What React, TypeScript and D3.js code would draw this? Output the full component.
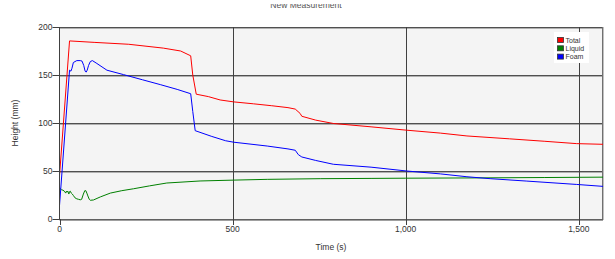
import React from "react";
import * as d3 from "d3";

const title = "New Measurement";
const xLabel = "Time (s)";
const yLabel = "Height (mm)";
const xTicks = [0, 500, 1000, 1500];
const yTicks = [0, 50, 100, 150, 200];
const seriesNames = ["Total", "Liquid", "Foam"];
const seriesColors = ["#ff0000", "#008000", "#0000ff"];

const totalT = [0, 29, 100, 200, 300, 350, 379, 385, 395, 430, 464, 503, 560, 613, 660, 681, 695, 700, 740, 791, 900, 1003, 1100, 1177, 1300, 1400, 1494, 1570];
const totalV = [45, 185.5, 184, 182, 178, 175, 170, 150, 130, 127.5, 124, 122, 120, 118, 116, 114.5, 110, 107, 103, 99.5, 96, 92.5, 89.5, 86.5, 83.5, 81, 78.5, 77.8];

const liquidT = [0, 3, 6, 10, 14, 18, 20, 22, 24, 27, 29, 31, 34, 37, 40, 45, 50, 55, 60, 64, 69, 73, 76, 79, 82, 86, 89, 98, 118, 147, 180, 214, 260, 310, 406, 503, 600, 753, 900, 1000, 1200, 1400, 1570];
const liquidV = [33, 31, 30.5, 30, 29, 27, 29, 28, 29, 26, 28.5, 29, 27, 26, 24.5, 22, 21, 20.5, 20, 20.5, 26, 29.5, 29.5, 27, 24, 20.5, 19.5, 19.8, 23, 27, 29.5, 31.5, 34.5, 37.5, 39.6, 40.5, 41.3, 42, 42.3, 42.5, 42.8, 43.2, 43.6];

const foamT = [0, 29, 33, 36, 40, 50, 60, 65, 70, 74, 77, 80, 84, 89, 95, 108, 137, 185, 240, 291, 340, 379, 385, 392, 400, 440, 480, 503, 600, 660, 681, 690, 700, 740, 791, 900, 1003, 1100, 1177, 1244, 1350, 1494, 1570];
const foamV = [14, 155, 154, 157, 163, 165, 165, 164.5, 160, 154, 153, 155, 160, 164, 165, 162, 155, 150.4, 145, 140, 135, 130.5, 112, 92, 91, 86, 81.5, 80, 76, 73, 71.6, 67, 64.6, 61, 57, 54, 50, 47, 44, 42, 39.5, 36, 34];

const W = 615;
const H = 259;
const L = 59.5;
const R = 603;
const T = 27;
const B = 219;

export default function App() {
  const x = d3.scaleLinear().domain([0, 1570]).range([L, R]);
  const y = d3.scaleLinear().domain([0, 200]).range([B, T]);
  const line = d3
    .line<[number, number]>()
    .x((d) => x(d[0]))
    .y((d) => y(d[1]));
  const series = [
    totalT.map((t, i) => [t, totalV[i]] as [number, number]),
    liquidT.map((t, i) => [t, liquidV[i]] as [number, number]),
    foamT.map((t, i) => [t, foamV[i]] as [number, number]),
  ];
  const fmt = d3.format(",");
  const font = "'Liberation Sans', Arial, sans-serif";
  return (
    <svg
      width={W}
      height={H}
      style={{ position: "absolute", left: 0, top: 0, display: "block" }}
      fontFamily={font}
    >
      <defs>
        <clipPath id="titleClip">
          <rect x={0} y={4} width={W} height={10} />
        </clipPath>
      </defs>
      <rect x={0} y={0} width={W} height={H} fill="#ffffff" />
      <text x={306} y={7.8} fontSize={8.5} textAnchor="middle" fill="#555" clipPath="url(#titleClip)">
        {title}
      </text>
      <rect x={L} y={T} width={R - L} height={B - T} fill="#f4f4f4" />
      {yTicks
        .filter((v) => v > 0)
        .map((v) => (
          <g key={"hg" + v}>
            <line x1={L} x2={R} y1={Math.round(y(v)) + 0.5} y2={Math.round(y(v)) + 0.5} stroke="#505050" />
            <line x1={L} x2={R} y1={Math.round(y(v)) + 1.5} y2={Math.round(y(v)) + 1.5} stroke="#b0b0b0" />
          </g>
        ))}
      {xTicks
        .filter((v) => v > 0)
        .map((v) => (
          <line key={"vg" + v} x1={Math.round(x(v)) + 0.5} x2={Math.round(x(v)) + 0.5} y1={T} y2={B} stroke="#404040" />
        ))}
      <line x1={R - 0.5} x2={R - 0.5} y1={T} y2={B} stroke="#707070" />
      <line x1={R + 0.5} x2={R + 0.5} y1={T} y2={B + 1} stroke="#c0c0c0" />
      {series.map((s, i) => (
        <path key={i} d={line(s) || ""} fill="none" stroke={seriesColors[i]} strokeWidth={1} />
      ))}
      <line x1={L} x2={L} y1={T} y2={B + 1} stroke="#404040" />
      <line x1={L} x2={R} y1={B + 0.5} y2={B + 0.5} stroke="#606060" />
      <line x1={L} x2={R} y1={B + 1.5} y2={B + 1.5} stroke="#a0a0a0" />
      {yTicks.map((v) => (
        <g key={"yt" + v}>
          <line x1={L - 7} x2={L} y1={Math.round(y(v)) + 0.5} y2={Math.round(y(v)) + 0.5} stroke="#404040" />
          <text x={L - 7} y={y(v) + 3} fontSize={8.5} textAnchor="end" fill="#333">
            {fmt(v)}
          </text>
        </g>
      ))}
      {xTicks.map((v) => (
        <g key={"xt" + v}>
          <line x1={Math.round(x(v)) + 0.5} x2={Math.round(x(v)) + 0.5} y1={B} y2={B + 6} stroke="#404040" />
          <text x={x(v)} y={B + 13} fontSize={8.5} textAnchor="middle" fill="#333">
            {fmt(v)}
          </text>
        </g>
      ))}
      <text x={331} y={250} fontSize={8.5} textAnchor="middle" fill="#333">
        {xLabel}
      </text>
      <text
        transform={`translate(18,123) rotate(-90)`}
        fontSize={8.5}
        textAnchor="middle"
        fill="#333"
      >
        {yLabel}
      </text>
      <rect x={554} y={32} width={35} height={31} fill="#ffffff" />
      {seriesNames.map((n, i) => (
        <g key={n}>
          <rect x={557.5} y={37.5 + i * 8.3} width={6} height={5} fill={seriesColors[i]} stroke="#333" strokeWidth={0.8} />
          <text x={565.5} y={42.5 + i * 8.3} fontSize={7} fill="#333">
            {n}
          </text>
        </g>
      ))}
    </svg>
  );
}
